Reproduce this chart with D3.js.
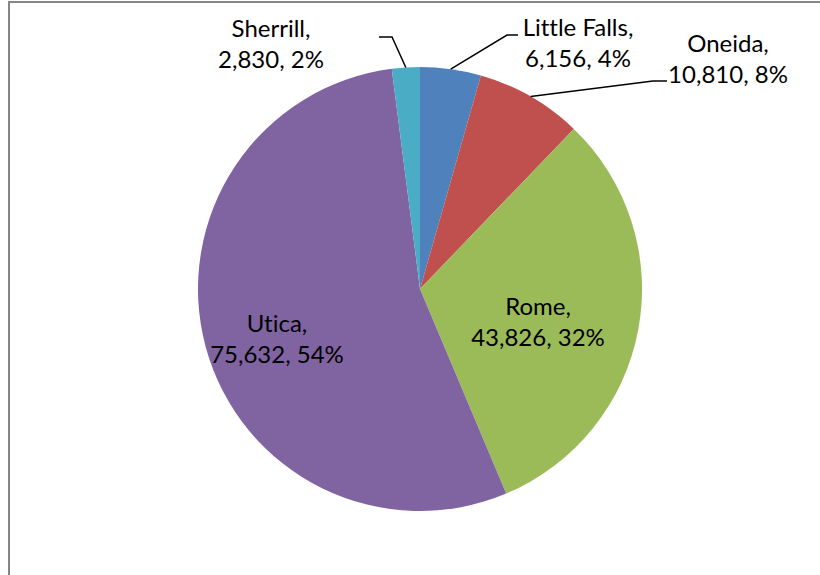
<!DOCTYPE html>
<html>
<head>
<meta charset="utf-8">
<script src="https://cdn.jsdelivr.net/npm/d3@7"></script>
<style>
  html, body { margin: 0; padding: 0; background: #fff; }
  svg { display: block; }
  text { font-family: Lato, "Open Sans", sans-serif; font-size: 24px; fill: #000; font-variant-ligatures: none; }
</style>
</head>
<body>
<svg id="chart" width="820" height="575"></svg>
<script>
// Population by city, clockwise from 12 o'clock
const categories = ["Little Falls", "Oneida", "Rome", "Utica", "Sherrill"];
const values = [6156, 10810, 43826, 75632, 2830];
const percentLabels = ["4%", "8%", "32%", "54%", "2%"];
const colors = ["#4F81BD", "#C0504D", "#9BBB59", "#8064A2", "#4BACC6"];

const W = 820, H = 575;
const cx = 420, cy = 289, radius = 222;

const svg = d3.select("#chart");

// chart frame
svg.append("rect")
  .attr("x", 9).attr("y", 2)
  .attr("width", W + 20).attr("height", H + 20)
  .attr("fill", "none")
  .attr("stroke", "#868686")
  .attr("stroke-width", 2);

const data = categories.map((c, i) => ({ name: c, value: values[i], pct: percentLabels[i], color: colors[i] }));

const pie = d3.pie().value(d => d.value).sort(null);
const arcs = pie(data);
const arc = d3.arc().innerRadius(0).outerRadius(radius);

const g = svg.append("g").attr("transform", `translate(${cx},${cy})`);

g.selectAll("path.slice")
  .data(arcs)
  .join("path")
  .attr("class", "slice")
  .attr("d", arc)
  .attr("fill", d => d.data.color);

// Label placement relative to the pie centre (text centre x, first baseline y)
// and the elbow/end of the leader line for labels outside the pie.
const labelLayout = {
  "Little Falls": { x: 158, y: -253, leader: [[87, -254], [98, -254]] },
  "Oneida":       { x: 308, y: -237, leader: [[233, -208], [247, -208]] },
  "Rome":         { x: 118, y: 26 },
  "Utica":        { x: -143, y: 43 },
  "Sherrill":     { x: -149, y: -252, leader: [[-28, -252], [-41, -252]] }
};
const lineGap = 31;
const fmt = d3.format(",");

arcs.forEach(a => {
  const L = labelLayout[a.data.name];
  if (L.leader) {
    const mid = (a.startAngle + a.endAngle) / 2;
    const p0 = [radius * Math.sin(mid), -radius * Math.cos(mid)];
    g.append("path")
      .attr("d", d3.line()([p0, ...L.leader]))
      .attr("fill", "none")
      .attr("stroke", "#000")
      .attr("stroke-width", 1.5);
  }
  const t = g.append("text").attr("text-anchor", "middle");
  t.append("tspan").attr("x", L.x).attr("y", L.y).text(a.data.name + ",");
  t.append("tspan").attr("x", L.x).attr("y", L.y + lineGap)
    .text(fmt(a.data.value) + ", " + a.data.pct);
});
</script>
</body>
</html>
